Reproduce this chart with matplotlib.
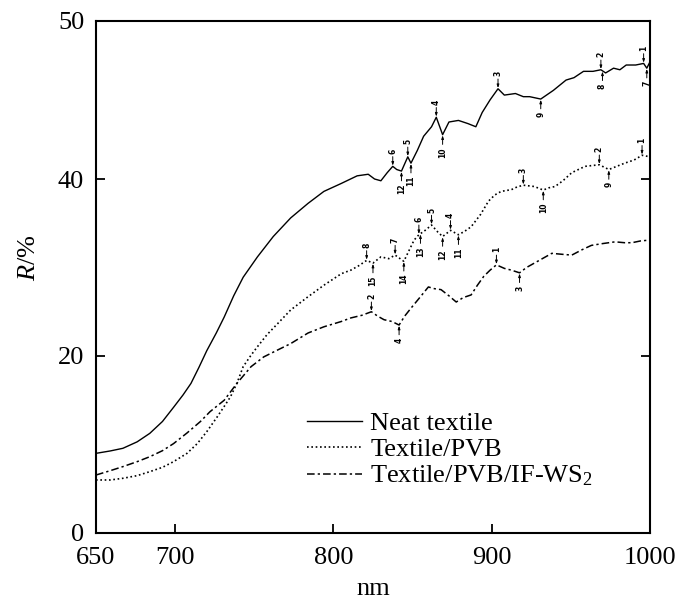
import numpy as np
import matplotlib
matplotlib.use("Agg")
import matplotlib.pyplot as plt

plt.rcParams['font.family'] = ['Liberation Serif', 'DejaVu Serif']
plt.rcParams['mathtext.fontset'] = 'custom'
plt.rcParams['mathtext.rm'] = 'Liberation Serif'
plt.rcParams['mathtext.it'] = 'Liberation Serif:italic'

# wavelength (nm) and reflectance (%)
neat_nm = [650, 659, 667, 676, 684, 692, 699, 705, 710, 715, 720, 726, 731, 737, 743,
           752, 762, 773, 784, 794, 805, 815,
           822, 826, 830, 834, 837.5, 840, 843, 847, 849, 853, 857, 862, 865, 869, 873,
           879, 885, 890, 894, 899, 904, 908, 915, 920, 924, 931, 939, 947, 952, 958,
           964, 969, 972, 977, 981, 985, 991, 996, 998, 1000]
neat_r = [9.0, 9.27, 9.57, 10.3, 11.26, 12.6, 14.2, 15.6, 16.9, 18.7, 20.6, 22.6, 24.4, 26.8, 28.9,
          31.2, 33.5, 35.6, 37.25, 38.6, 39.5, 40.2,
          40.3, 40.0, 39.8, 40.4, 40.8, 40.6, 40.5, 41.4, 41.0, 41.8, 42.7, 43.3, 43.9, 42.8, 43.6,
          43.7, 43.5, 43.3, 44.2, 45.0, 45.7, 45.3, 45.4, 45.2, 45.2, 45.05, 45.6, 46.25, 46.4, 46.8,
          46.8, 46.9, 46.7, 47.0, 46.9, 47.2, 47.2, 47.3, 47.0, 47.4]

pvb_nm = [650, 659, 667, 676, 684, 692, 699, 707.5, 714, 720, 726.5, 731, 735, 739, 743,
          748, 752, 758, 765, 773, 784, 794, 805, 811,
          816, 821, 825, 830, 835, 839, 844.5, 848, 851, 854, 858, 862, 866, 869, 874,
          879, 883, 887, 893, 898, 902, 906, 912.5, 916, 920, 927, 932.6, 936, 940, 945,
          950.6, 959, 968, 974, 979, 984, 990, 995, 1000]
pvb_r = [5.99, 5.99, 6.18, 6.48, 6.93, 7.42, 8.06, 9.0, 10.1, 11.45, 13.1, 14.3, 15.4, 16.9, 18.8,
         20.1, 21.05, 22.4, 23.7, 25.2, 26.7, 28.0, 29.3, 29.7,
         30.2, 30.8, 30.5, 31.2, 31.0, 31.4, 30.7, 32.0, 33.1, 33.7, 34.2, 34.8, 34.0, 33.5, 34.2,
         33.7, 34.1, 34.6, 36.0, 37.5, 38.2, 38.6, 38.8, 39.1, 39.3, 39.15, 38.75, 39.0, 39.15, 39.8,
         40.4, 40.8, 40.9, 40.6, 40.8, 41.0, 41.2, 41.5, 41.4]

ws2_nm = [650, 659, 667, 676, 684, 692, 699, 707.5, 716, 722, 731, 739, 748, 756, 765,
          773, 784, 794, 805, 811,
          818, 824, 828, 832, 837, 841.5, 845, 849, 855, 860, 864, 868, 873, 877.6, 882,
          887, 891, 895, 899, 903, 908, 912.5, 917.6, 922, 927, 932, 938, 944, 950.6, 957,
          963, 970, 978, 984, 988.6, 994, 1000]
ws2_r = [6.55, 7.04, 7.5, 8.06, 8.62, 9.3, 10.1, 11.3, 12.6, 13.7, 15.0, 16.9, 18.8, 19.9, 20.7,
         21.4, 22.6, 23.3, 23.9, 24.3,
         24.6, 25.0, 24.5, 24.1, 23.9, 23.5, 24.5, 25.4, 26.7, 27.8, 27.6, 27.5, 26.8, 26.1, 26.6,
         26.9, 28.0, 29.0, 29.7, 30.3, 29.9, 29.7, 29.4, 30.0, 30.5, 31.0, 31.6, 31.5, 31.4, 32.0,
         32.5, 32.7, 32.9, 32.8, 32.8, 33.0, 33.1]

# peak labels: (wavelength, label, above?)
neat_marks = [(837.5, '6', True), (843, '12', False), (847, '5', True), (849, '11', False),
              (865, '4', True), (869, '10', False), (904, '3', True), (931, '9', False),
              (969, '2', True), (970, '8', False), (996, '1', True), (998, '7', False)]
pvb_marks = [(821, '8', True), (825, '15', False), (839, '7', True), (844.5, '14', False),
             (854, '6', True), (855, '13', False), (862, '5', True), (869, '12', False),
             (874, '4', True), (879, '11', False), (920, '3', True), (932.6, '10', False),
             (968, '2', True), (974, '9', False), (995, '1', True)]
ws2_marks = [(824, '2', True), (841.5, '4', False), (903, '1', True), (917.6, '3', False)]

labels = ['Neat textile', 'Textile/PVB', r'Textile/PVB/IF-WS$_2$']

# the y axis of the original is stretched above 40 %
K = 1.789


def fwd(y):
    y = np.asarray(y, dtype=float)
    return np.where(y <= 40, y, 40 + (y - 40) * K)


def inv(y):
    y = np.asarray(y, dtype=float)
    return np.where(y <= 40, y, 40 + (y - 40) / K)


fig = plt.figure(figsize=(6.75, 6.03), dpi=100)
ax = fig.add_axes([0.1422, 0.1161, 0.8207, 0.8496])
ax.set_yscale('function', functions=(fwd, inv))

ax.plot(neat_nm, neat_r, color='black', lw=1.0, label=labels[0])
ax.plot(pvb_nm, pvb_r, color='black', lw=1.2, linestyle=(0, (1, 1.6)), label=labels[1])
ax.plot(ws2_nm, ws2_r, color='black', lw=1.1, linestyle=(0, (5, 2, 1.5, 2)), label=labels[2])

for xs, ys, marks in [(neat_nm, neat_r, neat_marks), (pvb_nm, pvb_r, pvb_marks),
                      (ws2_nm, ws2_r, ws2_marks)]:
    for x, lab, above in marks:
        y = np.interp(x, xs, ys)
        ax.annotate(lab, xy=(x, y), xytext=(0, 9 if above else -9),
                    textcoords='offset points', rotation=90, ha='center',
                    va='bottom' if above else 'top', fontsize=5.5, fontweight='bold',
                    family='DejaVu Sans',
                    arrowprops=dict(arrowstyle='-|>,head_length=0.35,head_width=0.12',
                                    lw=0.7, color='black', shrinkA=0, shrinkB=0.5))

ax.set_xlim(650, 1000)
ax.set_ylim(0, 50)
ax.set_xticks([650, 700, 800, 900, 1000])
ax.set_yticks([0, 20, 40, 50])
ax.set_yticklabels(['0', '20', '40', '50'])
ax.minorticks_off()

ax.tick_params(axis='both', direction='in', length=6.5, width=1.3, labelsize=19)
ax.tick_params(axis='y', pad=8.5, right=True)
ax.tick_params(axis='x', pad=10)
for s in ax.spines.values():
    s.set_linewidth(1.5)

ax.set_xlabel('nm', fontsize=19)
ax.set_ylabel(r'$R$/%', fontsize=19)
ax.xaxis.set_label_coords(0.5, -0.11)
ax.xaxis.label.set_va('center')
ax.yaxis.set_label_coords(-0.121, 0.537)
ax.yaxis.label.set_va('center')

ax.legend(loc='center left', bbox_to_anchor=(0.381, 0.162), frameon=False, fontsize=19,
          handlelength=2.1, handletextpad=0.3, labelspacing=0.1, borderpad=0,
          borderaxespad=0)

fig.savefig('out.png', dpi=100)
